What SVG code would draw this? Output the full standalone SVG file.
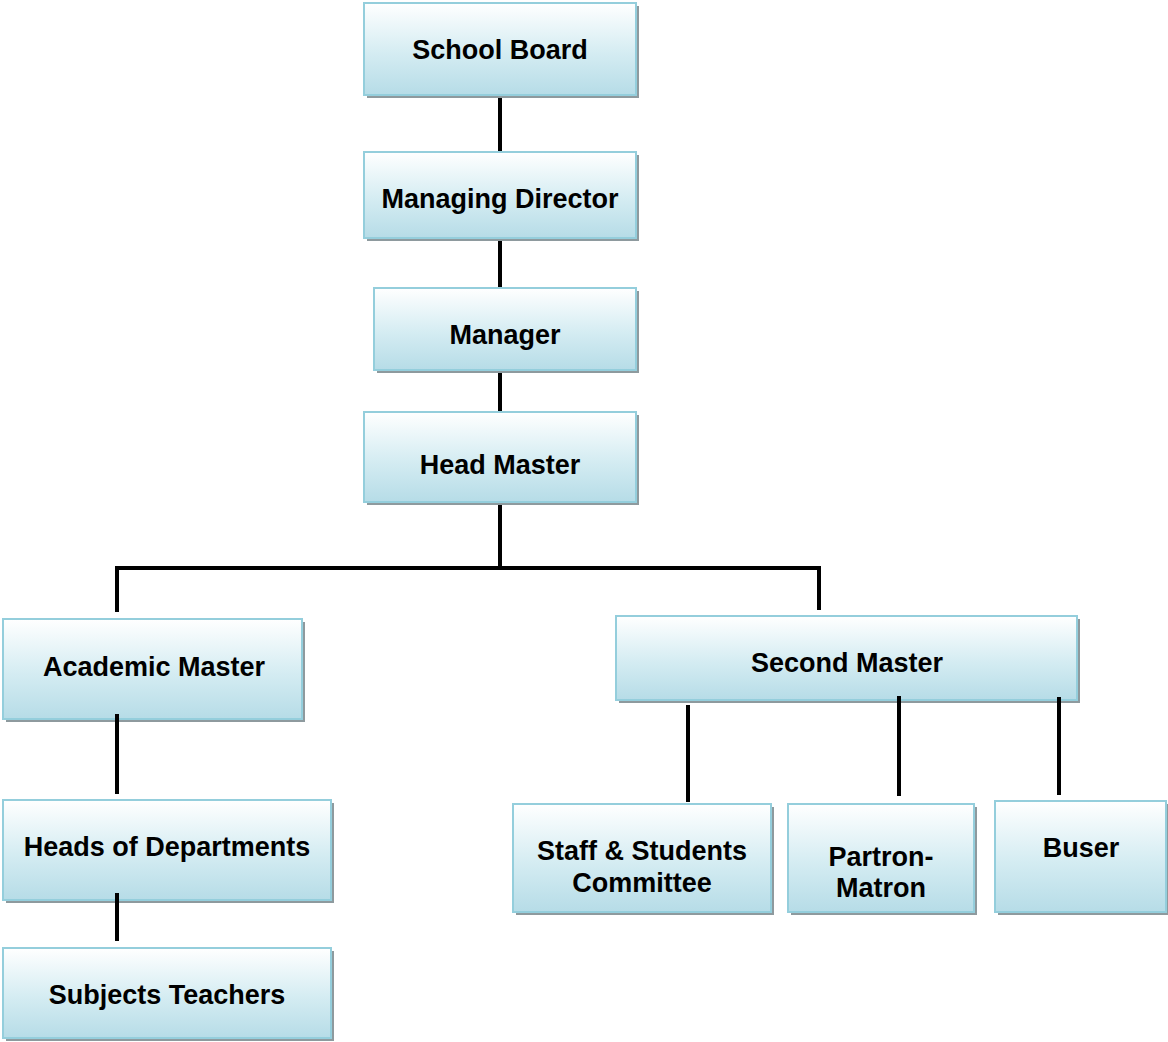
<svg xmlns="http://www.w3.org/2000/svg" width="1168" height="1042" viewBox="0 0 1168 1042">
<defs>
<linearGradient id="g" x1="0" y1="0" x2="0" y2="1">
<stop offset="0" stop-color="#ffffff"/>
<stop offset="0.55" stop-color="#d4ecf2"/>
<stop offset="1" stop-color="#b6dce7"/>
</linearGradient>
</defs>
<style>
.sh{fill:#8e9a9e;}
.bx{fill:url(#g);stroke:#94cedc;stroke-width:2;}
.t{font-family:"Liberation Sans",Arial,sans-serif;font-weight:bold;font-size:27px;fill:#000;text-anchor:middle;}
.c{stroke:#000;stroke-width:4;fill:none;}
</style>
<rect width="1168" height="1042" fill="#fff"/>
<g id="connectors">
<line class="c" x1="500" y1="95" x2="500" y2="152"/>
<line class="c" x1="500" y1="238" x2="500" y2="288"/>
<line class="c" x1="500" y1="370" x2="500" y2="412"/>
<line class="c" x1="500" y1="502" x2="500" y2="568"/>
<polyline class="c" points="117,612 117,568 819,568 819,610"/>
</g>
<g id="school-board"><rect class="sh" x="367" y="6" width="272" height="92"/><rect class="bx" x="364" y="3" width="272" height="92"/><text class="t" x="500" y="59">School Board</text></g>
<g id="managing-director"><rect class="sh" x="367" y="155" width="272" height="86"/><rect class="bx" x="364" y="152" width="272" height="86"/><text class="t" x="500" y="208">Managing Director</text></g>
<g id="manager"><rect class="sh" x="377" y="291" width="262" height="82"/><rect class="bx" x="374" y="288" width="262" height="82"/><text class="t" x="505" y="344">Manager</text></g>
<g id="head-master"><rect class="sh" x="367" y="415" width="272" height="90"/><rect class="bx" x="364" y="412" width="272" height="90"/><text class="t" x="500" y="474">Head Master</text></g>
<g id="academic-master"><rect class="sh" x="6" y="622" width="299" height="100"/><rect class="bx" x="3" y="619" width="299" height="100"/><text class="t" x="154" y="676">Academic Master</text></g>
<g id="second-master"><rect class="sh" x="619" y="619" width="461" height="84"/><rect class="bx" x="616" y="616" width="461" height="84"/><text class="t" x="847" y="672">Second Master</text></g>
<g id="heads-of-departments"><rect class="sh" x="6" y="803" width="328" height="100"/><rect class="bx" x="3" y="800" width="328" height="100"/><text class="t" x="167" y="856">Heads of Departments</text></g>
<g id="subjects-teachers"><rect class="sh" x="6" y="951" width="328" height="90"/><rect class="bx" x="3" y="948" width="328" height="90"/><text class="t" x="167" y="1004">Subjects Teachers</text></g>
<g id="staff-students-committee"><rect class="sh" x="516" y="807" width="258" height="108"/><rect class="bx" x="513" y="804" width="258" height="108"/><text class="t" x="642" y="860">Staff &amp; Students</text><text class="t" x="642" y="892">Committee</text></g>
<g id="partron-matron"><rect class="sh" x="791" y="807" width="186" height="108"/><rect class="bx" x="788" y="804" width="186" height="108"/><text class="t" x="881" y="866">Partron-</text><text class="t" x="881" y="897">Matron</text></g>
<g id="buser"><rect class="sh" x="998" y="804" width="171" height="111"/><rect class="bx" x="995" y="801" width="171" height="111"/><text class="t" x="1081" y="857">Buser</text></g>
<g id="connectors-over">
<line class="c" x1="117" y1="714" x2="117" y2="794"/>
<line class="c" x1="117" y1="893" x2="117" y2="941"/>
<line class="c" x1="688" y1="705" x2="688" y2="802"/>
<line class="c" x1="899" y1="696" x2="899" y2="796"/>
<line class="c" x1="1059" y1="697" x2="1059" y2="795"/>
</g>
</svg>
